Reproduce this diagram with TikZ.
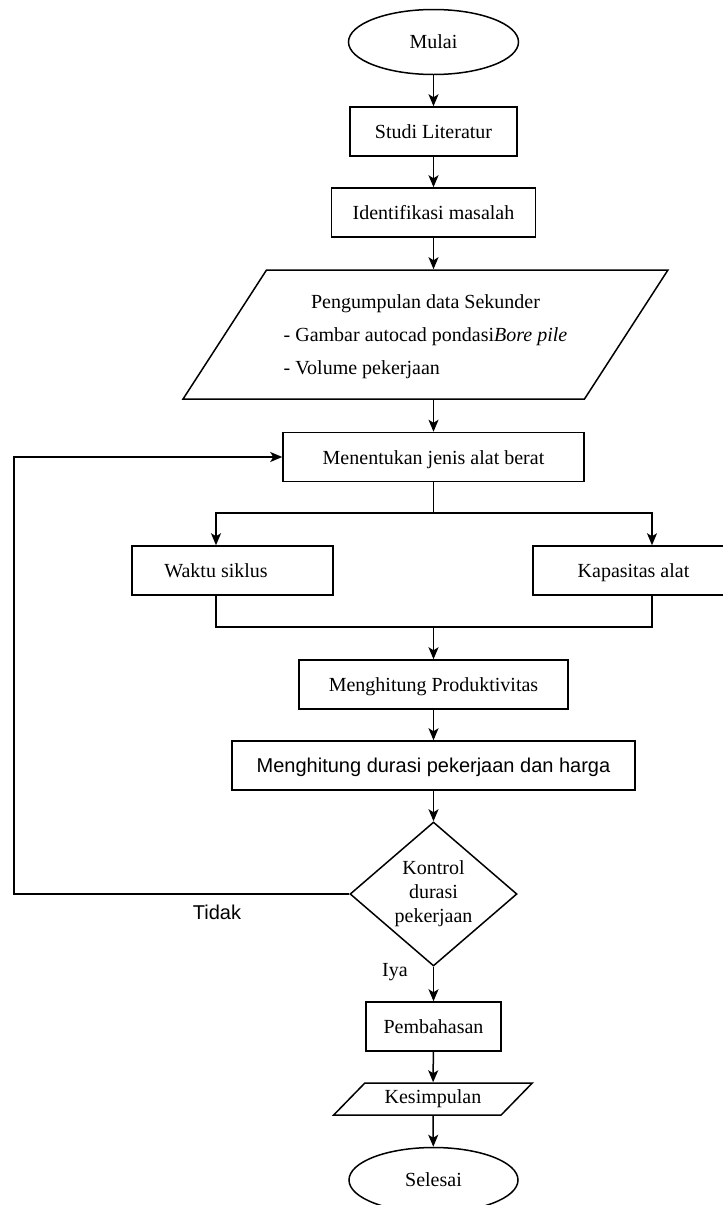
\documentclass[tikz,border=0pt]{standalone}
\usepackage{fontspec}
\setmainfont{Liberation Serif}
\newfontfamily\arialfont{Liberation Sans}
\usetikzlibrary{shapes.geometric,arrows.meta}

\begin{document}
\begin{tikzpicture}[x=0.5pt,y=-0.5pt,line width=0.75pt,
    every node/.style={font=\fontsize{10}{12}\selectfont},
    sans/.style={font=\arialfont\fontsize{10}{12}\selectfont},
    box/.style={draw,rectangle,inner sep=0pt,text height=8pt,text depth=1pt,minimum height=24.5pt},
    term/.style={draw,ellipse,inner sep=0pt,minimum width=85pt,minimum height=32.5pt},
    io/.style={draw,trapezium,trapezium stretches=true,inner sep=0pt},
    decision/.style={draw,diamond,inner sep=0pt,aspect=1.16,minimum width=83.5pt,minimum height=72pt,align=center},
    arrow/.style={-{Stealth[length=6pt,width=5pt,inset=1.5pt]}}]
    \clip (0,0) rectangle (723,1205);
    %% start and first steps
    \node[term] (mulai) at (433.5,42) {Mulai};
    \node[box,minimum width=83.5pt] (studi) at (433.5,131.5) {Studi Literatur};
    \node[box,minimum width=102pt] (identifikasi) at (433.5,212.5) {Identifikasi masalah};
    %% data input
    \node[io,trapezium left angle=53.06,trapezium right angle=126.94,minimum width=242.5pt,minimum height=64.5pt] (sekunder) at (425.5,334.5)
        {\renewcommand{\arraystretch}{1.375}\begin{tabular}{@{}l@{}}
        \multicolumn{1}{@{}c@{}}{Pengumpulan data Sekunder}\\
        - Gambar autocad pondasi\textit{Bore pile}\\
        - Volume pekerjaan
        \end{tabular}};
    \node[box,minimum width=150.5pt] (menentukan) at (433.5,457) {Menentukan jenis alat berat};
    %% two branches
    \node[box,minimum width=100.5pt] (waktu) at (232.5,570.5) {Waktu siklus\hspace*{16.5pt}};
    \node[box,minimum width=100.5pt] (kapasitas) at (633.5,570.5) {Kapasitas alat};
    \coordinate (split) at (433.5,513);
    \coordinate (merge) at (433.5,627);
    \node[box,minimum width=134.5pt] (produktivitas) at (433.5,684.5) {Menghitung Produktivitas};
    \node[box,sans,minimum width=201.5pt] (durasi) at (433.5,765.5) {Menghitung durasi pekerjaan dan harga};
    %% check
    \node[decision] (kontrol) at (433.5,894) {Kontrol\\durasi\\pekerjaan};
    \coordinate (loop) at (14,457);
    \node[sans] (tidak) at (217,912) {Tidak};
    \node (iya) at (395,972) {Iya};
    %% end
    \node[box,minimum width=67.5pt] (pembahasan) at (433.5,1026.5) {Pembahasan};
    \node[io,trapezium left angle=39.37,trapezium right angle=140.63,minimum width=100pt,minimum height=16pt] (kesimpulan) at (433,1099) {Kesimpulan};
    \node[term,minimum width=84.5pt] (selesai) at (433.5,1180) {Selesai};

    %% connectors
    \draw[arrow] (mulai) -- (studi);
    \draw[arrow] (studi) -- (identifikasi);
    \draw[arrow] (identifikasi.south) -- (identifikasi.south |- sekunder.north);
    \draw[arrow] (menentukan.north |- sekunder.south) -- (menentukan.north);
    \draw (menentukan.south) -- (split);
    \draw[arrow] (split) -| ([xshift=-8.25pt]waktu.north);
    \draw[arrow] (split) -| ([xshift=9.25pt]kapasitas.north);
    \draw ([xshift=-8.25pt]waktu.south) |- (merge) -| ([xshift=9.25pt]kapasitas.south);
    \draw[arrow] (merge) -- (produktivitas);
    \draw[arrow] (produktivitas) -- (durasi);
    \draw[arrow] (durasi) -- (kontrol);
    \draw[arrow] (kontrol.west) -| (loop) -- (menentukan.west);
    \draw[arrow] (kontrol) -- (pembahasan);
    \draw[arrow] (pembahasan) -- (kesimpulan);
    \draw[arrow] (kesimpulan) -- (selesai);
\end{tikzpicture}
\end{document}
